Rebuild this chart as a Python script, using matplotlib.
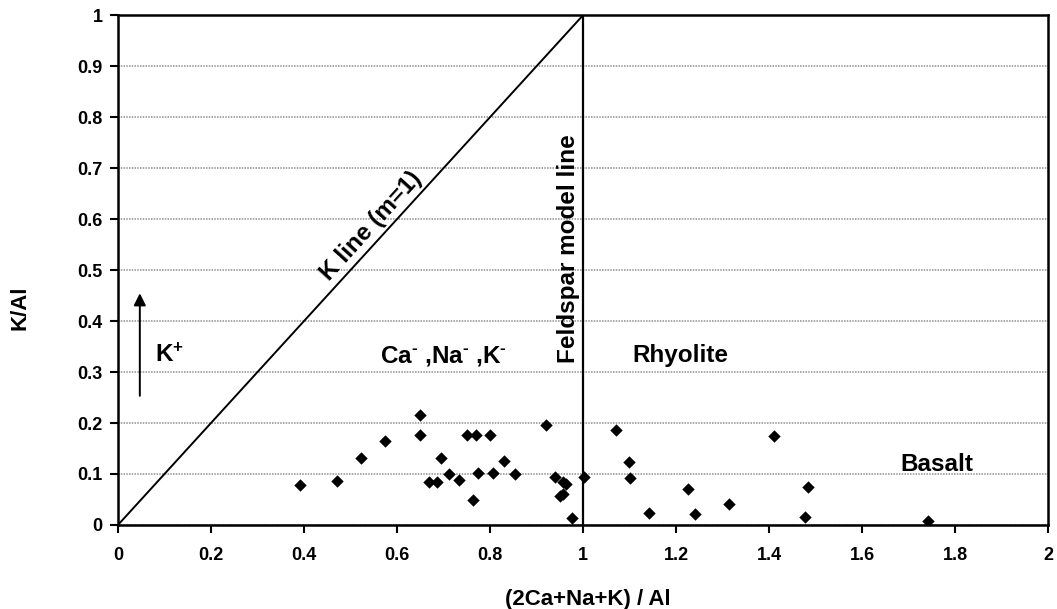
import matplotlib
matplotlib.use("Agg")
import matplotlib.pyplot as plt
import numpy as np

plt.rcParams['font.family'] = ['Liberation Sans', 'DejaVu Sans']
plt.rcParams['font.weight'] = 'bold'
plt.rcParams['mathtext.fontset'] = 'custom'
plt.rcParams['mathtext.rm'] = 'Liberation Sans:bold'
plt.rcParams['mathtext.bf'] = 'Liberation Sans:bold'
plt.rcParams['mathtext.it'] = 'Liberation Sans:bold'

# sample ratios
ratio_x = [0.391, 0.471, 0.522, 0.575, 0.650, 0.650, 0.695, 0.668, 0.686, 0.712,
           0.733, 0.750, 0.770, 0.764, 0.774, 0.801, 0.806, 0.831, 0.854, 0.920,
           0.939, 0.956, 0.963, 0.951, 0.956, 0.977, 1.001, 1.071, 1.098, 1.101,
           1.141, 1.225, 1.241, 1.314, 1.410, 1.483, 1.478, 1.742]
k_al = [0.078, 0.087, 0.132, 0.165, 0.216, 0.176, 0.132, 0.084, 0.084, 0.099,
        0.088, 0.176, 0.176, 0.048, 0.102, 0.177, 0.101, 0.125, 0.099, 0.197,
        0.094, 0.085, 0.081, 0.056, 0.061, 0.013, 0.094, 0.187, 0.124, 0.092,
        0.024, 0.071, 0.022, 0.041, 0.175, 0.074, 0.016, 0.008]

k_line_x = [0, 1]
k_line_y = [0, 1]
feldspar_x = [1, 1]
feldspar_y = [0, 1]

xticks = np.round(np.arange(0, 2.01, 0.2), 1)
yticks = np.round(np.arange(0, 1.01, 0.1), 1)
xtick_labels = ['0', '0.2', '0.4', '0.6', '0.8', '1', '1.2', '1.4', '1.6', '1.8', '2']
ytick_labels = ['0', '0.1', '0.2', '0.3', '0.4', '0.5', '0.6', '0.7', '0.8', '0.9', '1']

fig = plt.figure(figsize=(10.57, 6.09), dpi=100)
ax = fig.add_axes([0.1116, 0.138, 0.88, 0.837])

ax.plot(k_line_x, k_line_y, color='black', lw=1.4, zorder=2)
ax.plot(feldspar_x, feldspar_y, color='black', lw=1.6, zorder=2)
ax.scatter(ratio_x, k_al, marker='D', s=40, color='black', linewidths=0, zorder=3)

ax.set_xlim(0, 2)
ax.set_ylim(0, 1)
ax.set_yticks(yticks, ytick_labels)
ax.set_xticks(xticks, xtick_labels)
ax.tick_params(axis='both', labelsize=13, length=6, width=1.5, direction='out')
ax.tick_params(axis='y', pad=5)
ax.tick_params(axis='x', pad=10)
for sp in ax.spines.values():
    sp.set_linewidth(1.8)
ax.grid(axis='y', linestyle=(0, (1.0, 0.8)), color='#909090', lw=1.1)
ax.set_axisbelow(True)

ax.set_xlabel('(2Ca+Na+K) / Al', fontsize=16, fontweight='bold', va='top')
ax.xaxis.set_label_coords(0.505, -0.126)
ax.set_ylabel('K/Al', fontsize=16, fontweight='bold')
ax.yaxis.set_label_coords(-0.094, 0.426)

# annotations
ax.text(0.545, 0.587, 'K line (m=1)', rotation=47.7, ha='center', va='center',
        fontsize=17.5, fontweight='bold', rotation_mode='anchor')
ax.text(0.969, 0.542, 'Feldspar model line', rotation=90, ha='center', va='center',
        fontsize=17.5, fontweight='bold')
ax.text(0.70, 0.319, 'Ca$^{\\text{-}}$ ,Na$^{\\text{-}}$ ,K$^{\\text{-}}$', ha='center',
        va='baseline', fontsize=17.5, fontweight='bold')
ax.text(1.107, 0.32, 'Rhyolite', ha='left', va='baseline', fontsize=17.5, fontweight='bold')
ax.text(1.683, 0.105, 'Basalt', ha='left', va='baseline', fontsize=17.5, fontweight='bold')
ax.text(0.08, 0.32, 'K$^{+}$', ha='left', va='baseline', fontsize=17.5, fontweight='bold')
ax.annotate('', xy=(0.047, 0.46), xytext=(0.047, 0.248),
            arrowprops=dict(arrowstyle='-|>', color='black', lw=1.4, mutation_scale=18))

fig.savefig('out.png', dpi=100)
